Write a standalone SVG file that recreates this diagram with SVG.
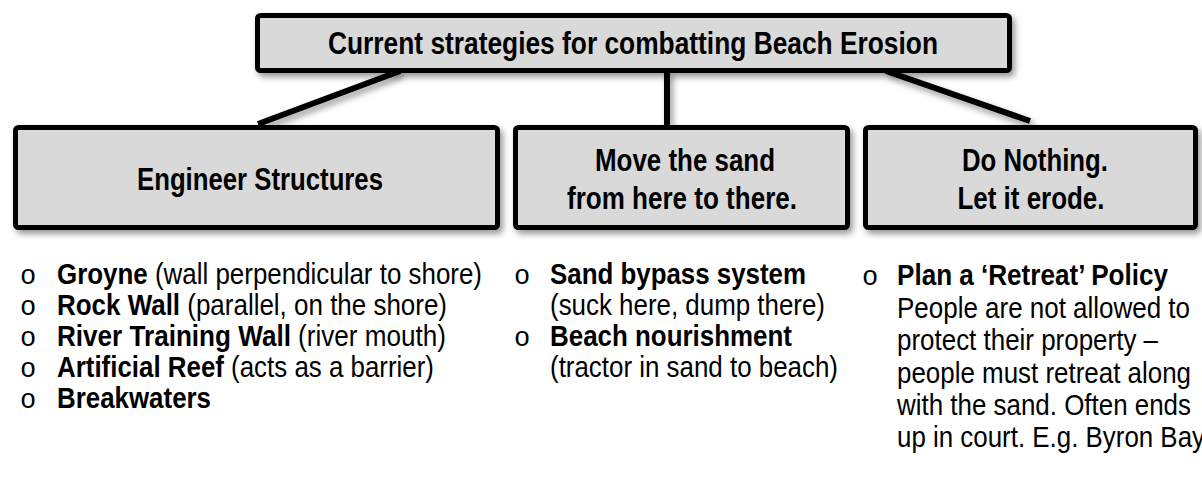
<svg xmlns="http://www.w3.org/2000/svg" width="1202" height="485" viewBox="0 0 1202 485">
<style>
  text { font-family: "Liberation Sans Narrow", "Liberation Sans", Arial, sans-serif; fill: #000; }
  .box { fill: #d9d9d9; stroke: #000; stroke-width: 5; filter: url(#sh); }
  .lbl { font-size: 31px; font-weight: bold; text-anchor: middle; }
  .li { font-size: 29px; }
  .b { font-weight: bold; }
  .bul { font-family: "Liberation Mono", "Courier New", monospace; font-size: 27px; }
  .conn line { stroke: #000; stroke-width: 6; }
</style>
<defs>
  <filter id="sh" x="-10%" y="-20%" width="130%" height="150%">
    <feDropShadow dx="3" dy="4" stdDeviation="3" flood-color="#000" flood-opacity="0.4"/>
  </filter>
</defs>
<rect width="1202" height="485" fill="#fff"/>
<g class="conn" filter="url(#sh)">
  <line x1="400" y1="71" x2="258" y2="124"/>
  <line x1="667" y1="71" x2="667" y2="126"/>
  <line x1="886" y1="71" x2="1030" y2="121"/>
</g>
<g id="root">
  <rect class="box" x="257.5" y="15.5" width="752" height="55" rx="3"/>
  <text class="lbl" x="633" y="54" textLength="610" lengthAdjust="spacingAndGlyphs">Current strategies for combatting Beach Erosion</text>
</g>
<g id="engineer">
  <rect class="box" x="15.5" y="127.5" width="482" height="100" rx="3"/>
  <text class="lbl" x="260" y="190" textLength="246" lengthAdjust="spacingAndGlyphs">Engineer Structures</text>
</g>
<g id="move">
  <rect class="box" x="515.5" y="127.5" width="332" height="100" rx="3"/>
  <text class="lbl" x="685" y="171" textLength="180" lengthAdjust="spacingAndGlyphs">Move the sand</text>
  <text class="lbl" x="682" y="209" textLength="230" lengthAdjust="spacingAndGlyphs">from here to there.</text>
</g>
<g id="nothing">
  <rect class="box" x="865.5" y="127.5" width="330" height="100" rx="3"/>
  <text class="lbl" x="1035" y="171" textLength="146" lengthAdjust="spacingAndGlyphs">Do Nothing.</text>
  <text class="lbl" x="1031" y="209" textLength="147" lengthAdjust="spacingAndGlyphs">Let it erode.</text>
</g>
<g id="list-engineer">
  <text class="bul" x="20" y="284">o</text>
  <text class="li" x="57" y="284" textLength="425" lengthAdjust="spacingAndGlyphs"><tspan class="b">Groyne</tspan> (wall perpendicular to shore)</text>
  <text class="bul" x="20" y="315">o</text>
  <text class="li" x="57" y="315" textLength="390" lengthAdjust="spacingAndGlyphs"><tspan class="b">Rock Wall</tspan> (parallel, on the shore)</text>
  <text class="bul" x="20" y="346">o</text>
  <text class="li" x="57" y="346" textLength="389" lengthAdjust="spacingAndGlyphs"><tspan class="b">River Training Wall</tspan> (river mouth)</text>
  <text class="bul" x="20" y="377">o</text>
  <text class="li" x="57" y="377" textLength="377" lengthAdjust="spacingAndGlyphs"><tspan class="b">Artificial Reef</tspan> (acts as a barrier)</text>
  <text class="bul" x="20" y="408">o</text>
  <text class="li b" x="57" y="408" textLength="154" lengthAdjust="spacingAndGlyphs">Breakwaters</text>
</g>
<g id="list-move">
  <text class="bul" x="514" y="284">o</text>
  <text class="li b" x="550" y="284" textLength="256" lengthAdjust="spacingAndGlyphs">Sand bypass system</text>
  <text class="li" x="550" y="315" textLength="275" lengthAdjust="spacingAndGlyphs">(suck here, dump there)</text>
  <text class="bul" x="514" y="346">o</text>
  <text class="li b" x="550" y="346" textLength="242" lengthAdjust="spacingAndGlyphs">Beach nourishment</text>
  <text class="li" x="550" y="377" textLength="288" lengthAdjust="spacingAndGlyphs">(tractor in sand to beach)</text>
</g>
<g id="list-nothing">
  <text class="bul" x="862" y="285">o</text>
  <text class="li b" x="897" y="285" textLength="271" lengthAdjust="spacingAndGlyphs">Plan a ‘Retreat’ Policy</text>
  <text class="li" x="897" y="318" textLength="293" lengthAdjust="spacingAndGlyphs">People are not allowed to</text>
  <text class="li" x="897" y="350" textLength="261" lengthAdjust="spacingAndGlyphs">protect their property –</text>
  <text class="li" x="897" y="383" textLength="294" lengthAdjust="spacingAndGlyphs">people must retreat along</text>
  <text class="li" x="897" y="415" textLength="294" lengthAdjust="spacingAndGlyphs">with the sand. Often ends</text>
  <text class="li" x="897" y="447" textLength="308" lengthAdjust="spacingAndGlyphs">up in court. E.g. Byron Bay</text>
</g>
</svg>
